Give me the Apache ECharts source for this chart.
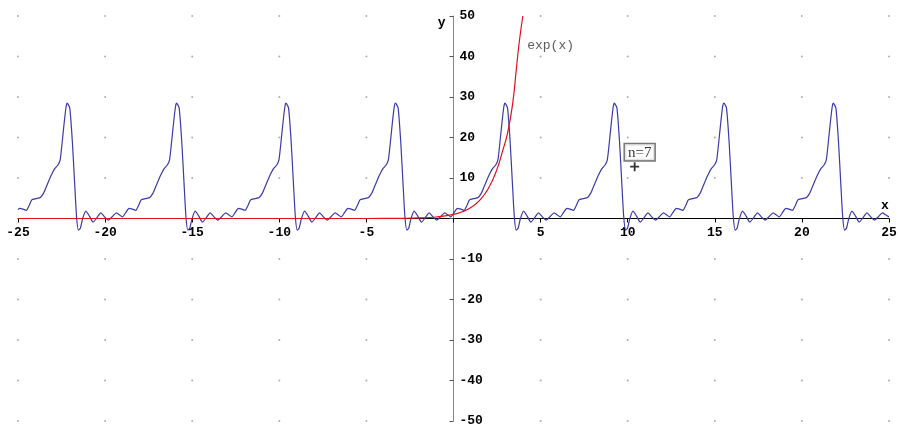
<!DOCTYPE html>
<html style="height: 100%">
<head>
<meta charset="utf-8">
<title>exp(x), n=7</title>
<script type="text/javascript" src="https://cdn.jsdelivr.net/npm/echarts@6/dist/echarts.min.js"></script>
</head>
<body style="height: 100%; margin: 0; background: #fff">
<div id="container" style="width: 898px; height: 426px"></div>
<script type="text/javascript">
// axis ticks
var xTicks = [-25, -20, -15, -10, -5, 0, 5, 10, 15, 20, 25];
var yTicks = [-50, -40, -30, -20, -10, 0, 10, 20, 30, 40, 50];

// blue curve (n=7), one period per line
var blueX = [
	-25, -24.90, -24.71, -24.52, -24.36, -24.21, -23.96, -23.71, -23.54, -23.36, -23.10, -22.91, -22.71, -22.58, -22.46, -22.34, -22.24,
	-22.18, -22.03, -21.88, -21.75, -21.64, -21.53, -21.42, -21.30, -21.11, -20.90, -20.69, -20.47, -20.25, -20.03, -19.81, -19.58, -19.35, -19.18, -19.00, -18.81, -18.62, -18.43, -18.24, -18.08, -17.93, -17.68, -17.43, -17.26, -17.08, -16.82, -16.63, -16.43, -16.30, -16.18, -16.06, -15.96,
	-15.90, -15.75, -15.60, -15.47, -15.36, -15.25, -15.14, -15.02, -14.83, -14.62, -14.41, -14.19, -13.97, -13.75, -13.53, -13.30, -13.07, -12.90, -12.72, -12.53, -12.34, -12.15, -11.96, -11.80, -11.65, -11.40, -11.15, -10.98, -10.80, -10.54, -10.35, -10.15, -10.02, -9.90, -9.78, -9.68,
	-9.62, -9.47, -9.32, -9.19, -9.08, -8.97, -8.86, -8.74, -8.55, -8.34, -8.13, -7.91, -7.69, -7.47, -7.25, -7.02, -6.79, -6.62, -6.44, -6.25, -6.06, -5.87, -5.68, -5.52, -5.37, -5.12, -4.87, -4.70, -4.52, -4.26, -4.07, -3.87, -3.74, -3.62, -3.50, -3.40,
	-3.33, -3.18, -3.03, -2.90, -2.79, -2.68, -2.57, -2.45, -2.26, -2.05, -1.84, -1.62, -1.40, -1.18, -0.96, -0.73, -0.50, -0.33, -0.15, 0.04, 0.23, 0.42, 0.61, 0.77, 0.92, 1.17, 1.42, 1.59, 1.77, 2.03, 2.22, 2.42, 2.55, 2.67, 2.79, 2.89,
	2.95, 3.10, 3.25, 3.38, 3.49, 3.60, 3.71, 3.83, 4.02, 4.23, 4.44, 4.66, 4.88, 5.10, 5.32, 5.55, 5.78, 5.95, 6.13, 6.32, 6.51, 6.70, 6.89, 7.05, 7.20, 7.45, 7.70, 7.87, 8.05, 8.31, 8.50, 8.70, 8.83, 8.95, 9.07, 9.17,
	9.23, 9.38, 9.53, 9.66, 9.77, 9.88, 9.99, 10.11, 10.30, 10.51, 10.72, 10.94, 11.16, 11.38, 11.60, 11.83, 12.06, 12.23, 12.41, 12.60, 12.79, 12.98, 13.17, 13.33, 13.48, 13.73, 13.98, 14.15, 14.33, 14.59, 14.78, 14.98, 15.11, 15.23, 15.35, 15.45,
	15.52, 15.67, 15.82, 15.95, 16.06, 16.17, 16.28, 16.40, 16.59, 16.80, 17.01, 17.23, 17.45, 17.67, 17.89, 18.12, 18.35, 18.52, 18.70, 18.89, 19.08, 19.27, 19.46, 19.62, 19.77, 20.02, 20.27, 20.44, 20.62, 20.88, 21.07, 21.27, 21.40, 21.52, 21.64, 21.74,
	21.80, 21.95, 22.10, 22.23, 22.34, 22.45, 22.56, 22.68, 22.87, 23.08, 23.29, 23.51, 23.73, 23.95, 24.17, 24.40, 24.63, 24.80, 25
];
var blueY = [
	2.2, 2.5, 2.3, 2.0, 3.2, 4.6, 4.9, 5.2, 6.2, 8.0, 10.6, 12.2, 13.2, 14.5, 19.0, 24.0, 27.6,
	28.5, 27.3, 19.0, 8.8, 0.5, -2.9, -2.4, -0.2, 1.8, 0.6, -0.9, 0.2, 1.4, 0.4, -0.4, 0.5, 1.4, 0.9, 0.4, 1.5, 2.5, 2.3, 2.0, 3.2, 4.6, 4.9, 5.2, 6.2, 8.0, 10.6, 12.2, 13.2, 14.5, 19.0, 24.0, 27.6,
	28.5, 27.3, 19.0, 8.8, 0.5, -2.9, -2.4, -0.2, 1.8, 0.6, -0.9, 0.2, 1.4, 0.4, -0.4, 0.5, 1.4, 0.9, 0.4, 1.5, 2.5, 2.3, 2.0, 3.2, 4.6, 4.9, 5.2, 6.2, 8.0, 10.6, 12.2, 13.2, 14.5, 19.0, 24.0, 27.6,
	28.5, 27.3, 19.0, 8.8, 0.5, -2.9, -2.4, -0.2, 1.8, 0.6, -0.9, 0.2, 1.4, 0.4, -0.4, 0.5, 1.4, 0.9, 0.4, 1.5, 2.5, 2.3, 2.0, 3.2, 4.6, 4.9, 5.2, 6.2, 8.0, 10.6, 12.2, 13.2, 14.5, 19.0, 24.0, 27.6,
	28.5, 27.3, 19.0, 8.8, 0.5, -2.9, -2.4, -0.2, 1.8, 0.6, -0.9, 0.2, 1.4, 0.4, -0.4, 0.5, 1.4, 0.9, 0.4, 1.5, 2.5, 2.3, 2.0, 3.2, 4.6, 4.9, 5.2, 6.2, 8.0, 10.6, 12.2, 13.2, 14.5, 19.0, 24.0, 27.6,
	28.5, 27.3, 19.0, 8.8, 0.5, -2.9, -2.4, -0.2, 1.8, 0.6, -0.9, 0.2, 1.4, 0.4, -0.4, 0.5, 1.4, 0.9, 0.4, 1.5, 2.5, 2.3, 2.0, 3.2, 4.6, 4.9, 5.2, 6.2, 8.0, 10.6, 12.2, 13.2, 14.5, 19.0, 24.0, 27.6,
	28.5, 27.3, 19.0, 8.8, 0.5, -2.9, -2.4, -0.2, 1.8, 0.6, -0.9, 0.2, 1.4, 0.4, -0.4, 0.5, 1.4, 0.9, 0.4, 1.5, 2.5, 2.3, 2.0, 3.2, 4.6, 4.9, 5.2, 6.2, 8.0, 10.6, 12.2, 13.2, 14.5, 19.0, 24.0, 27.6,
	28.5, 27.3, 19.0, 8.8, 0.5, -2.9, -2.4, -0.2, 1.8, 0.6, -0.9, 0.2, 1.4, 0.4, -0.4, 0.5, 1.4, 0.9, 0.4, 1.5, 2.5, 2.3, 2.0, 3.2, 4.6, 4.9, 5.2, 6.2, 8.0, 10.6, 12.2, 13.2, 14.5, 19.0, 24.0, 27.6,
	28.5, 27.3, 19.0, 8.8, 0.5, -2.9, -2.4, -0.2, 1.8, 0.6, -0.9, 0.2, 1.4, 0.4, -0.4, 0.5, 1.4, 0.9, 0.4
];

// red curve exp(x)
var expX = [-25, -6, -4, -3, -2, -1, 0, 0.5, 1, 1.5, 2, 2.5, 2.8, 3.1, 3.4, 3.6, 3.77, 3.98];
var expY = [0, 0, 0.02, 0.05, 0.14, 0.37, 1.0, 1.65, 2.72, 4.48, 7.39, 12.2, 16.4, 21.0, 28.5, 36.6, 43.4, 50];
var expLabelAt = [3.77, 43.4];

// "+" marker with the n=7 box
var markerX = [10.4];
var markerY = [12.8];
var markerText = 'n=7';

var dom = document.getElementById('container');
var myChart = echarts.init(dom);

var blueData = blueX.map(function (x, i) { return [x, blueY[i]]; });
var expData = expX.map(function (x, i) { return [x, expY[i]]; });
var markerData = markerX.map(function (x, i) { return [x, markerY[i]]; });

// grey dots on the tick grid
var dots = [];
xTicks.forEach(function (x) {
	yTicks.forEach(function (y) {
		if (x !== 0 && y !== 0) dots.push([x, y]);
	});
});

var gridLeft = 18, gridRight = 9, gridTop = 16, gridBottom = 5;
var gridW = 898 - gridLeft - gridRight;
var gridH = 426 - gridTop - gridBottom;

var monoBold = {fontFamily: 'Liberation Mono', fontWeight: 'bold', fontSize: 13, color: '#000'};

var option = {
	animation: false,
	backgroundColor: '#fff',
	grid: {left: gridLeft, right: gridRight, top: gridTop, bottom: gridBottom,
		containLabel: false, outerBoundsMode: 'none'},
	xAxis: {
		type: 'value',
		min: -25,
		max: 25,
		interval: 5,
		position: 'bottom',
		offset: -gridH / 2,
		name: 'x',
		nameLocation: 'end',
		nameGap: -4,
		nameTextStyle: {fontFamily: 'Liberation Mono', fontWeight: 'bold', fontSize: 13, color: '#000',
			align: 'center', verticalAlign: 'bottom', padding: [0, 0, 6, 0]},
		axisLine: {onZero: false, lineStyle: {color: '#000', width: 1}},
		axisTick: {show: true, length: 4, lineStyle: {color: '#000'}},
		axisLabel: Object.assign({margin: 8, showMinLabel: true, showMaxLabel: true,
			formatter: function (v) { return v === 0 ? '' : String(v); }}, monoBold),
		splitLine: {show: false}
	},
	yAxis: {
		type: 'value',
		min: -50,
		max: 50,
		interval: 10,
		position: 'left',
		offset: -gridW / 2,
		name: 'y',
		nameLocation: 'end',
		nameGap: -7,
		nameTextStyle: {fontFamily: 'Liberation Mono', fontWeight: 'bold', fontSize: 13, color: '#000',
			align: 'right', verticalAlign: 'middle', padding: [0, 8, 0, 0]},
		axisLine: {onZero: false, lineStyle: {color: '#888', width: 1}},
		axisTick: {show: true, length: 4, lineStyle: {color: '#555'}},
		axisLabel: Object.assign({inside: true, margin: 6, showMinLabel: true, showMaxLabel: true,
			formatter: function (v) { return v === 0 ? '' : String(v); }}, monoBold),
		splitLine: {show: false}
	},
	series: [
		{
			name: 'grid dots',
			type: 'scatter',
			silent: true,
			symbol: 'circle',
			symbolSize: 2,
			itemStyle: {color: '#9a9a9a'},
			data: dots,
			z: 1
		},
		{
			name: 'n=7',
			type: 'line',
			data: blueData,
			showSymbol: false,
			smooth: 0.2,
			lineStyle: {color: '#3a3aa8', width: 1.2},
			z: 3
		},
		{
			name: 'exp(x)',
			type: 'line',
			data: expData,
			showSymbol: false,
			smooth: true,
			lineStyle: {color: '#e0101c', width: 1.2},
			z: 4
		},
		{
			name: 'exp label',
			type: 'scatter',
			silent: true,
			symbolSize: 0,
			data: [expLabelAt],
			label: {show: true, position: 'right', distance: 8, offset: [0, 3], formatter: 'exp(x)',
				fontFamily: 'Liberation Mono', fontSize: 13, color: '#333'},
			z: 5
		},
		{
			name: 'marker',
			type: 'scatter',
			silent: true,
			symbol: 'path://M4,0L6,0L6,4L10,4L10,6L6,6L6,10L4,10L4,6L0,6L0,4L4,4Z',
			symbolSize: 9,
			itemStyle: {color: '#000'},
			data: markerData,
			label: {show: true, position: 'top', distance: 2, offset: [5, 0], formatter: markerText,
				fontFamily: 'Liberation Serif', fontSize: 15, color: '#000',
				backgroundColor: '#fff', borderColor: '#555', borderWidth: 1.5, padding: [1, 3, 0, 3]},
			z: 6
		}
	]
};

myChart.setOption(option);
</script>
</body>
</html>
